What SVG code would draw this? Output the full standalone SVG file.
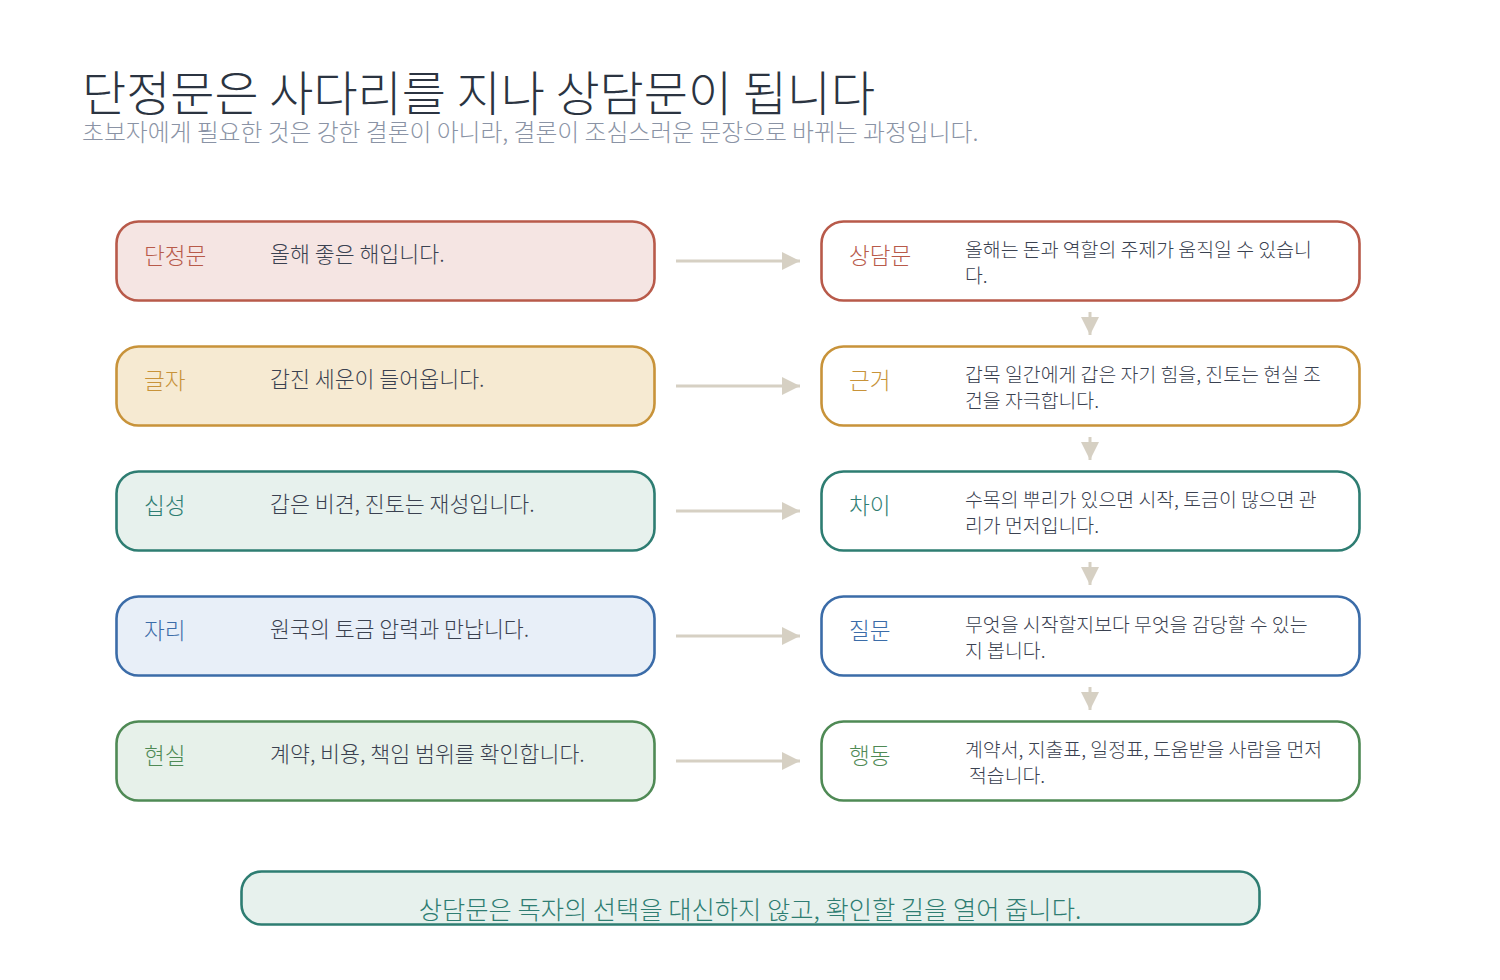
<svg xmlns="http://www.w3.org/2000/svg" width="1500" height="980" viewBox="0 0 1500 980">
<defs>
<style>
text{font-family:"Noto Sans CJK KR","Noto Sans",sans-serif;}
.title{font-size:48px;fill:#2b3441;font-weight:300;}
.sub{font-size:23.8px;fill:#8a93a5;font-weight:300;}
.box{stroke-width:2.6;}
.lbl{font-size:22.6px;font-weight:300;}
.ltxt{font-size:21.7px;fill:#3a4150;font-weight:300;}
.txt{font-size:19.4px;fill:#3a4150;font-weight:300;}
.conn{stroke:#d6d0c3;stroke-width:3;fill:none;}
.red .box{stroke:#b85a4a;}
.gold .box{stroke:#c8933a;}
.teal .box{stroke:#2e7d72;}
.blue .box{stroke:#3b6ca8;}
.green .box{stroke:#4f8a55;}
.red .lbl{fill:#b85a4a;}
.gold .lbl{fill:#c8933a;}
.teal .lbl{fill:#2e7d72;}
.blue .lbl{fill:#3b6ca8;}
.green .lbl{fill:#4f8a55;}
.l.red .box{fill:#f5e5e3;}
.l.gold .box{fill:#f6ead2;}
.l.teal .box{fill:#e7f1ed;}
.l.blue .box{fill:#e8eff8;}
.l.green .box{fill:#e7f1ea;}
.r .box{fill:#ffffff;}
</style>
<marker id="ah" viewBox="0 0 10 10" refX="10" refY="5" markerWidth="6" markerHeight="6.4" markerUnits="strokeWidth" orient="auto">
<path d="M0,0 L10,5 L0,10 Z" fill="#d6d0c3"/>
</marker>
</defs>
<rect width="1500" height="980" fill="#ffffff"/>
<text class="title" x="82" y="111">단정문은 사다리를 지나 상담문이 됩니다</text>
<text class="sub" x="82" y="141">초보자에게 필요한 것은 강한 결론이 아니라, 결론이 조심스러운 문장으로 바뀌는 과정입니다.</text>

<g id="connectors">
<line class="conn" x1="676" y1="261" x2="800" y2="261" marker-end="url(#ah)"/>
<line class="conn" x1="676" y1="386" x2="800" y2="386" marker-end="url(#ah)"/>
<line class="conn" x1="676" y1="511" x2="800" y2="511" marker-end="url(#ah)"/>
<line class="conn" x1="676" y1="636" x2="800" y2="636" marker-end="url(#ah)"/>
<line class="conn" x1="676" y1="761" x2="800" y2="761" marker-end="url(#ah)"/>
<line class="conn" x1="1090" y1="312" x2="1090" y2="335" marker-end="url(#ah)"/>
<line class="conn" x1="1090" y1="437" x2="1090" y2="460" marker-end="url(#ah)"/>
<line class="conn" x1="1090" y1="562" x2="1090" y2="585" marker-end="url(#ah)"/>
<line class="conn" x1="1090" y1="687" x2="1090" y2="710" marker-end="url(#ah)"/>
</g>

<g id="left1" class="l red">
<rect class="box" x="116.5" y="221.5" width="538" height="79" rx="22"/>
<text class="lbl" x="144" y="264">단정문</text>
<text class="ltxt" x="270" y="262">올해 좋은 해입니다.</text>
</g>
<g id="left2" class="l gold">
<rect class="box" x="116.5" y="346.5" width="538" height="79" rx="22"/>
<text class="lbl" x="144" y="389">글자</text>
<text class="ltxt" x="270" y="387">갑진 세운이 들어옵니다.</text>
</g>
<g id="left3" class="l teal">
<rect class="box" x="116.5" y="471.5" width="538" height="79" rx="22"/>
<text class="lbl" x="144" y="514">십성</text>
<text class="ltxt" x="270" y="512">갑은 비견, 진토는 재성입니다.</text>
</g>
<g id="left4" class="l blue">
<rect class="box" x="116.5" y="596.5" width="538" height="79" rx="22"/>
<text class="lbl" x="144" y="639">자리</text>
<text class="ltxt" x="270" y="637">원국의 토금 압력과 만납니다.</text>
</g>
<g id="left5" class="l green">
<rect class="box" x="116.5" y="721.5" width="538" height="79" rx="22"/>
<text class="lbl" x="144" y="764">현실</text>
<text class="ltxt" x="270" y="762">계약, 비용, 책임 범위를 확인합니다.</text>
</g>

<g id="right1" class="r red">
<rect class="box" x="821.5" y="221.5" width="538" height="79" rx="22"/>
<text class="lbl" x="849" y="264">상담문</text>
<text class="txt" x="965" y="257">올해는 돈과 역할의 주제가 움직일 수 있습니</text>
<text class="txt" x="965" y="283">다.</text>
</g>
<g id="right2" class="r gold">
<rect class="box" x="821.5" y="346.5" width="538" height="79" rx="22"/>
<text class="lbl" x="849" y="389">근거</text>
<text class="txt" x="965" y="382">갑목 일간에게 갑은 자기 힘을, 진토는 현실 조</text>
<text class="txt" x="965" y="408">건을 자극합니다.</text>
</g>
<g id="right3" class="r teal">
<rect class="box" x="821.5" y="471.5" width="538" height="79" rx="22"/>
<text class="lbl" x="849" y="514">차이</text>
<text class="txt" x="965" y="507">수목의 뿌리가 있으면 시작, 토금이 많으면 관</text>
<text class="txt" x="965" y="533">리가 먼저입니다.</text>
</g>
<g id="right4" class="r blue">
<rect class="box" x="821.5" y="596.5" width="538" height="79" rx="22"/>
<text class="lbl" x="849" y="639">질문</text>
<text class="txt" x="965" y="632">무엇을 시작할지보다 무엇을 감당할 수 있는</text>
<text class="txt" x="965" y="658">지 봅니다.</text>
</g>
<g id="right5" class="r green">
<rect class="box" x="821.5" y="721.5" width="538" height="79" rx="22"/>
<text class="lbl" x="849" y="764">행동</text>
<text class="txt" x="965" y="757">계약서, 지출표, 일정표, 도움받을 사람을 먼저</text>
<text class="txt" x="969" y="783">적습니다.</text>
</g>

<g id="footer">
<rect x="241.5" y="871.5" width="1018" height="53" rx="20" fill="#e7f1ed" stroke="#2e7d72" stroke-width="2.6"/>
<text x="750" y="919" text-anchor="middle" font-size="25.3" fill="#2e7d72" font-weight="300">상담문은 독자의 선택을 대신하지 않고, 확인할 길을 열어 줍니다.</text>
</g>
</svg>
